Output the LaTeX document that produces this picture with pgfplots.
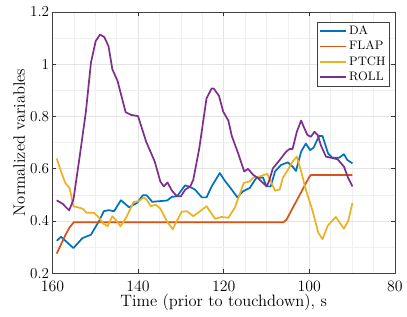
\documentclass[border=0pt]{standalone}
\usepackage{pgfplots}
\pgfplotsset{compat=1.18}
\usetikzlibrary{calc}
\definecolor{mblue}{rgb}{0,0.447,0.741}
\definecolor{morange}{rgb}{0.85,0.325,0.098}
\definecolor{myellow}{rgb}{0.929,0.694,0.125}
\definecolor{mpurple}{rgb}{0.494,0.184,0.556}
\begin{document}
\begin{tikzpicture}
\begin{axis}[
  name=ax,
  scale only axis,
  width=259.5pt, height=198pt,
  x dir=reverse,
  xmin=80, xmax=160, ymin=0.2, ymax=1.2,
  xtick={80,100,...,160}, ytick={0.2,0.4,...,1.2},
  yticklabels={0.2,0.4,0.6,0.8,1,1.2},
  minor x tick num=3, minor y tick num=1,
  grid=both,
  major grid style={gray!22, line width=0.4pt},
  minor grid style={gray!12, line width=0.3pt},
  tick align=inside,
  tick style={black!80, line width=0.4pt},
  major tick length=3pt, minor tick length=0pt,
  axis line style={black!75, line width=0.5pt},
  tick label style={font=\fontsize{11.5}{13}\selectfont},
  yticklabel style={xshift=1pt},
  xticklabel style={yshift=-2.5pt},
  label style={font=\fontsize{12.5}{15}\selectfont},
  xlabel={Time (prior to touchdown), s},
  ylabel={Normalized variables},
  xlabel style={yshift=4.5pt},
  ylabel style={yshift=-3pt},
  legend style={at={(0.985,0.963)}, anchor=north east, font=\fontsize{9.3}{11}\selectfont, draw=black!75, inner sep=1.5pt, row sep=0.5pt, nodes={inner sep=1.5pt}},
  legend cell align=left,
  legend image code/.code={\draw[#1] (0pt,0pt) -- (20pt,0pt);},
]
\addplot[mblue, line width=1.3pt, line join=round] coordinates {
(159,0.324)(158,0.339)(155.1,0.296)(153,0.334)(151,0.347)(149.1,0.40)(148,0.437)(146.8,0.441)(145.6,0.437)(144,0.479)(142.1,0.452)(140.2,0.469)(138.9,0.498)(138,0.498)(136.7,0.473)(133.2,0.478)(132.1,0.492)(130.9,0.494)(129,0.536)(127.9,0.53)(126.7,0.52)(125.1,0.49)(124,0.49)(122.8,0.532)(120.9,0.583)(119.7,0.553)(118.4,0.526)(116.8,0.49)(115.5,0.513)(113.9,0.526)(112.4,0.564)(110.8,0.566)(110,0.532)(109,0.532)(108,0.589)(106.6,0.614)(105,0.624)(103.9,0.608)(103.1,0.591)(101.9,0.665)(100.8,0.696)(99.8,0.671)(99,0.68)(97.7,0.725)(96.9,0.725)(95.6,0.658)(94.6,0.642)(93,0.642)(91.9,0.655)(91.1,0.633)(89.9,0.62)
};
\addlegendentry{DA}
\addplot[morange, line width=1.3pt, line join=round] coordinates {
(159,0.275)(158,0.31)(157,0.345)(156,0.375)(155,0.395)(106,0.395)(105.3,0.405)(104.5,0.43)(100,0.568)(99.6,0.576)(89.9,0.576)
};
\addlegendentry{FLAP}
\addplot[myellow, line width=1.3pt, line join=round] coordinates {
(159,0.639)(158,0.589)(157,0.545)(156,0.526)(155.1,0.456)(154.1,0.452)(153,0.447)(152,0.431)(150.3,0.431)(149.1,0.412)(148.1,0.389)(147.1,0.38)(146,0.418)(145,0.40)(144.1,0.379)(142.8,0.412)(141,0.473)(139.8,0.475)(138.7,0.49)(138,0.481)(137,0.456)(135.9,0.462)(134.8,0.447)(133.2,0.397)(131.9,0.368)(130.9,0.40)(129.8,0.435)(128.6,0.437)(127.1,0.418)(125.5,0.437)(124,0.456)(122,0.408)(120.5,0.415)(118.9,0.412)(117.4,0.45)(115.3,0.545)(113.9,0.551)(113.1,0.566)(111.6,0.57)(109.8,0.58)(109,0.551)(108,0.516)(106.9,0.52)(106.2,0.564)(105,0.595)(103.9,0.627)(102.9,0.646)(101.9,0.589)(100.8,0.52)(99.2,0.437)(97.9,0.355)(96.9,0.33)(95.7,0.381)(93.8,0.415)(91.9,0.37)(90.9,0.40)(89.9,0.469)
};
\addlegendentry{PTCH}
\addplot[mpurple, line width=1.3pt, line join=round] coordinates {
(159,0.479)(157.6,0.465)(156.1,0.44)(155.1,0.481)(153.7,0.639)(152.2,0.816)(151,1.006)(149.9,1.088)(148.9,1.113)(147.9,1.104)(146.9,1.069)(146,0.98)(144.8,0.936)(144.1,0.892)(142.9,0.816)(141.7,0.806)(140,0.801)(138.1,0.703)(136.1,0.627)(134.8,0.551)(134,0.532)(133.1,0.547)(132.1,0.516)(130.9,0.494)(130,0.494)(129,0.519)(127.8,0.532)(127.1,0.557)(125.7,0.677)(124,0.869)(122.8,0.907)(122.3,0.906)(121.1,0.879)(120.1,0.818)(118.9,0.784)(118.1,0.725)(116.6,0.658)(115.2,0.589)(114.3,0.599)(113.1,0.576)(112,0.564)(110.8,0.545)(109.9,0.532)(109.3,0.557)(108.5,0.601)(106.9,0.633)(105.4,0.665)(104.6,0.675)(103.9,0.675)(102.9,0.741)(101.9,0.784)(101.1,0.753)(100.4,0.728)(99.6,0.722)(98.8,0.741)(98,0.728)(97.3,0.69)(96.1,0.646)(95,0.642)(93.4,0.636)(91.9,0.608)(90.9,0.564)(89.9,0.532)
};
\addlegendentry{ROLL}
\end{axis}
\path[use as bounding box] ($(ax.south west)+(-39.75pt,-33pt)$) rectangle ($(ax.north east)+(6pt,9pt)$);
\end{tikzpicture}
\end{document}
